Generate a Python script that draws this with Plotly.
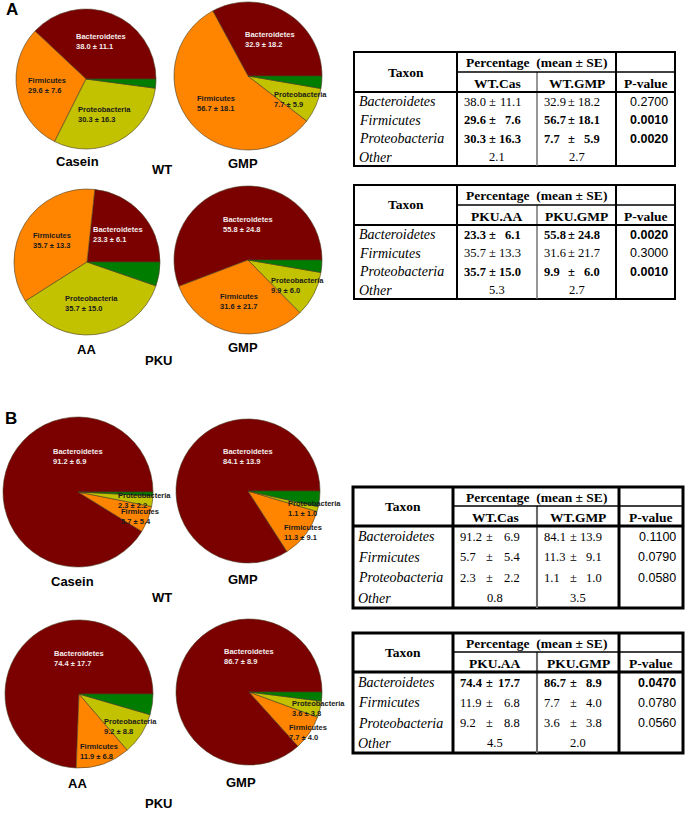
import math
import plotly.graph_objects as go

W, H = 685, 822

# ---------------- data ----------------
taxa = ["Bacteroidetes", "Firmicutes", "Proteobacteria", "Other"]
taxon_colors = ["#7b0000", "#ff8500", "#c2c200", "#007d00"]

# Panel A
a_wt_cas_mean = [38.0, 29.6, 30.3, 2.1]
a_wt_cas_se = [11.1, 7.6, 16.3]
a_wt_gmp_mean = [32.9, 56.7, 7.7, 2.7]
a_wt_gmp_se = [18.2, 18.1, 5.9]
a_wt_p = [0.2700, 0.0010, 0.0020]

a_pku_aa_mean = [23.3, 35.7, 35.7, 5.3]
a_pku_aa_se = [6.1, 13.3, 15.0]
a_pku_gmp_mean = [55.8, 31.6, 9.9, 2.7]
a_pku_gmp_se = [24.8, 21.7, 6.0]
a_pku_p = [0.0020, 0.3000, 0.0010]

# Panel B
b_wt_cas_mean = [91.2, 5.7, 2.3, 0.8]
b_wt_cas_se = [6.9, 5.4, 2.2]
b_wt_gmp_mean = [84.1, 11.3, 1.1, 3.5]
b_wt_gmp_se = [13.9, 9.1, 1.0]
b_wt_p = [0.1100, 0.0790, 0.0580]

b_pku_aa_mean = [74.4, 11.9, 9.2, 4.5]
b_pku_aa_se = [17.7, 6.8, 8.8]
b_pku_gmp_mean = [86.7, 7.7, 3.6, 2.0]
b_pku_gmp_se = [8.9, 4.0, 3.8]
b_pku_p = [0.0470, 0.0780, 0.0560]

# ---------------- helpers ----------------
def px(x):
    return x / W


def py(y):
    return 1 - y / H


SANS = "Arial, Liberation Sans, sans-serif"
SERIF = "Times New Roman, Liberation Serif, serif"

fig = go.Figure()
annotations = []
shapes = []


def text(x, y, s, size, family=SANS, color="black", xanchor="center", yanchor="middle", align="center"):
    annotations.append(dict(x=px(x), y=py(y), xref="paper", yref="paper", text=s,
                            showarrow=False, xanchor=xanchor, yanchor=yanchor, align=align,
                            font=dict(size=size, family=family, color=color)))


def add_pie(cx, cy, r, mean, se, small_f=0.86):
    total = sum(mean)
    # plotly (counterclockwise) puts the first slice clockwise of `rotation`;
    # shift so the first slice starts at 3 o'clock and runs counterclockwise.
    rot = 90 - 360 * mean[0] / total
    fig.add_trace(go.Pie(
        values=mean, labels=taxa, sort=False, direction="counterclockwise", rotation=rot,
        marker=dict(colors=taxon_colors, line=dict(color="#4a3a20", width=0.6)),
        textinfo="none", hoverinfo="label+value", showlegend=False,
        domain=dict(x=[px(cx - r), px(cx + r)], y=[py(cy + r), py(cy - r)]),
    ))
    cum = 0.0
    for i in range(3):
        v = mean[i]
        mid_deg = (cum + v / 2) / total * 360
        cum += v
        if i == 0 and v >= 50:
            mid_deg = min(mid_deg, 90)
            f = 0.48
        elif v >= 15:
            f = 0.57
        else:
            f = small_f
        mid = math.radians(mid_deg)
        lx = cx + f * r * math.cos(mid)
        ly = cy - f * r * math.sin(mid)
        col = "#f4ecec" if i == 0 else "#1a1a1a"
        text(lx, ly, f"<b>{taxa[i]}<br>{v:.1f} ± {se[i]:.1f}</b>", 7.5, color=col, align="left")


def add_table(xs, ys, heads, m1, s1, m2, s2, pv, thick):
    x0, x1, x2, x3, x4 = xs
    y0, y1, y2, y3 = ys
    lw = thick
    shapes.append(dict(type="rect", xref="paper", yref="paper", x0=px(x0), x1=px(x4), y0=py(y3), y1=py(y0),
                       line=dict(color="black", width=lw)))

    def seg(a, b, c, d, w, col="black"):
        shapes.append(dict(type="line", xref="paper", yref="paper", x0=px(a), y0=py(b), x1=px(c), y1=py(d),
                           line=dict(color=col, width=w)))

    seg(x1, y0, x1, y3, lw)
    seg(x3, y0, x3, y3, lw)
    seg(x2, y1, x2, y3, lw * 0.7, "#6a6a6a")
    seg(x1, y1, x4, y1, 1.4)
    seg(x0, y2, x4, y2, lw)
    # headers
    text((x0 + x1) / 2, (y0 + y2) / 2, "<b>Taxon</b>", 13.5, SERIF)
    text((x1 + x3) / 2, (y0 + y1) / 2 + 1, "<b>Percentage  (mean ± SE)</b>", 13.5, SERIF)
    text((x1 + x2) / 2, (y1 + y2) / 2 + 1, f"<b>{heads[0]}</b>", 13.5, SERIF)
    text((x2 + x3) / 2, (y1 + y2) / 2 + 1, f"<b>{heads[1]}</b>", 13.5, SERIF)
    text((x3 + x4) / 2, (y1 + y2) / 2 + 1, "<b>P-value</b>", 13.5, SERIF)
    rh = (y3 - y2) / 4
    for k in range(4):
        yc = y2 + (k + 0.5) * rh + 0.5
        text(x0 + 3, yc, f"<i>{taxa[k]}</i>", 14, SERIF, xanchor="left")
        if k < 3:
            bold = pv[k] < 0.05
            wrap = (lambda s: f"<b>{s}</b>") if bold else (lambda s: s)
            for (ca, cb, m, s) in ((x1, x2, m1[k], s1[k]), (x2, x3, m2[k], s2[k])):
                w = cb - ca
                text(ca + 5, yc, wrap(f"{m:.1f}"), 12.5, SERIF, xanchor="left")
                text(ca + 0.44 * w, yc, wrap("±"), 12.5, SERIF)
                text(ca + 0.82 * w, yc, wrap(f"{s:.1f}"), 12.5, SERIF, xanchor="right")
            text(x4 - 5, yc, wrap(f"{pv[k]:.4f}"), 12.5, SANS, xanchor="right")
        else:
            text((x1 + x2) / 2, yc, f"{m1[k]:.1f}", 12.5, SERIF)
            text((x2 + x3) / 2, yc, f"{m2[k]:.1f}", 12.5, SERIF)


# ---------------- panel A ----------------
text(4, 10, "<b>A</b>", 17, xanchor="left")
add_pie(86, 79, 70, a_wt_cas_mean, a_wt_cas_se)
add_pie(248, 76, 74, a_wt_gmp_mean, a_wt_gmp_se, small_f=0.78)
text(77, 161, "<b>Casein</b>", 13)
text(243, 163, "<b>GMP</b>", 13)
text(162, 170, "<b>WT</b>", 13)

add_pie(87, 262, 73, a_pku_aa_mean, a_pku_aa_se)
add_pie(248, 260, 74, a_pku_gmp_mean, a_pku_gmp_se, small_f=0.75)
text(87, 349, "<b>AA</b>", 13)
text(243, 348, "<b>GMP</b>", 13)
text(158, 361, "<b>PKU</b>", 13)

add_table([354, 457, 537, 616, 675], [52, 72, 92, 166], ["WT.Cas", "WT.GMP"],
          a_wt_cas_mean, a_wt_cas_se, a_wt_gmp_mean, a_wt_gmp_se, a_wt_p, 2)
add_table([354, 457, 537, 616, 675], [185, 205, 225, 299], ["PKU.AA", "PKU.GMP"],
          a_pku_aa_mean, a_pku_aa_se, a_pku_gmp_mean, a_pku_gmp_se, a_pku_p, 2)

# ---------------- panel B ----------------
text(3, 418, "<b>B</b>", 17, xanchor="left")
add_pie(78, 492, 75, b_wt_cas_mean, b_wt_cas_se, small_f=0.89)
add_pie(248, 491, 72, b_wt_gmp_mean, b_wt_gmp_se, small_f=0.96)
text(72, 581, "<b>Casein</b>", 13)
text(243, 579, "<b>GMP</b>", 13)
text(162, 597, "<b>WT</b>", 13)

add_pie(79, 694, 74, b_pku_aa_mean, b_pku_aa_se, small_f=0.82)
add_pie(249, 692, 73, b_pku_gmp_mean, b_pku_gmp_se, small_f=0.98)
text(77, 783, "<b>AA</b>", 13)
text(241, 782, "<b>GMP</b>", 13)
text(158, 803, "<b>PKU</b>", 13)

add_table([353, 453, 537, 619, 683], [487, 506, 526, 608], ["WT.Cas", "WT.GMP"],
          b_wt_cas_mean, b_wt_cas_se, b_wt_gmp_mean, b_wt_gmp_se, b_wt_p, 3)
add_table([353, 453, 537, 619, 683], [633, 652, 672, 753], ["PKU.AA", "PKU.GMP"],
          b_pku_aa_mean, b_pku_aa_se, b_pku_gmp_mean, b_pku_gmp_se, b_pku_p, 3)

fig.update_layout(
    width=W, height=H, margin=dict(l=0, r=0, t=0, b=0),
    paper_bgcolor="white", plot_bgcolor="white",
    annotations=annotations, shapes=shapes,
)
fig.write_html("out.html", config={"displayModeBar": False},
               post_script="document.body.style.margin='0';document.body.style.padding='0';")
